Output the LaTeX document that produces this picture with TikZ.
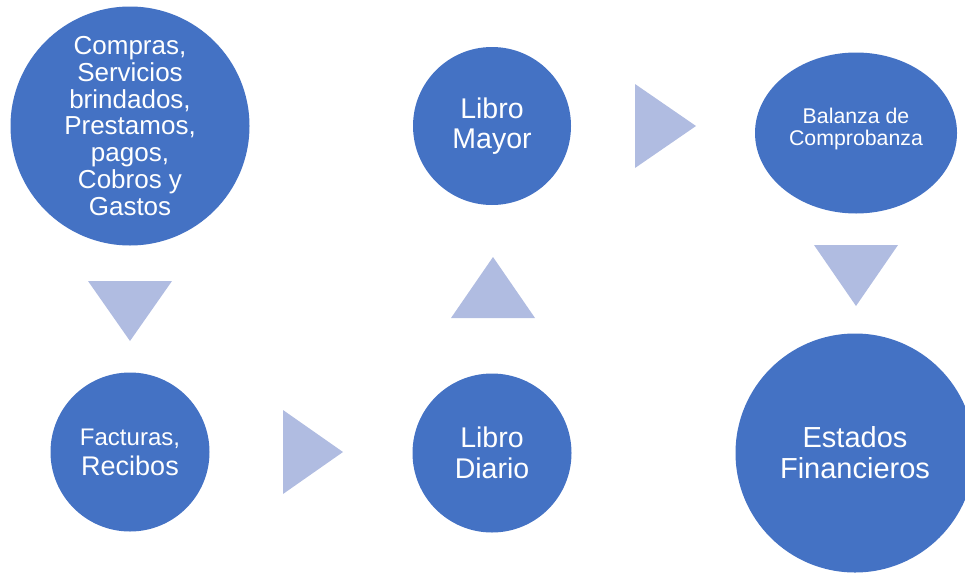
\documentclass[tikz,border=0pt]{standalone}
\usepackage{fontspec}
\setmainfont{Liberation Sans}
\usetikzlibrary{shapes.geometric}
\definecolor{circblue}{HTML}{4472C4}
\definecolor{arrowblue}{HTML}{B0BCE1}
\tikzset{
  circnode/.style={circle, fill=circblue, draw=none, inner sep=0pt, text=white, align=center},
  ellnode/.style={ellipse, fill=circblue, draw=none, inner sep=0pt, text=white, align=center},
  tri/.style={fill=arrowblue, draw=none},
  lbl/.style={text=white, align=center, inner sep=0pt}
}
\begin{document}
\begin{tikzpicture}[x=1pt,y=-1pt]
\useasboundingbox (0,0) rectangle (965,573);
\clip (0,0) rectangle (965,573);
% circles
\node[circnode, minimum size=239pt, font=\fontsize{26}{26.8}\selectfont] (src) at (130,126)
  {Compras,\\Servicios\\brindados,\\Prestamos,\\pagos,\\Cobros y\\Gastos};
\node[circnode, minimum size=159pt] (fact) at (130,452) {};
\node[lbl, font=\fontsize{27}{30}\selectfont] (factlbl) at (130,452) {{\fontsize{24}{30}\selectfont Facturas,}\\Recibos};
\node[circnode, minimum size=159pt, font=\fontsize{28.5}{31}\selectfont] (diario) at (492,453) {Libro\\Diario};
\node[circnode, minimum size=158pt, font=\fontsize{28.5}{29.5}\selectfont] (mayor) at (492,126) {Libro\\Mayor};
\node[ellnode, minimum width=202pt, minimum height=161pt] (balanza) at (856,133) {};
\node[lbl, font=\fontsize{21.3}{22}\selectfont] (balanzalbl) at (856,129) {Balanza de\\Comprobanza};
\node[circnode, minimum size=239pt, font=\fontsize{29}{31}\selectfont] (estados) at (855,453) {Estados\\Financieros};
% arrow triangles
\fill[tri] (88,281) -- (172,281) -- (130,341) -- cycle;
\fill[tri] (283,410) -- (283,494) -- (343,452) -- cycle;
\fill[tri] (451,318) -- (535,318) -- (493,257) -- cycle;
\fill[tri] (635,84) -- (635,168) -- (696,126) -- cycle;
\fill[tri] (814,245) -- (898,245) -- (856,306) -- cycle;
\end{tikzpicture}
\end{document}
